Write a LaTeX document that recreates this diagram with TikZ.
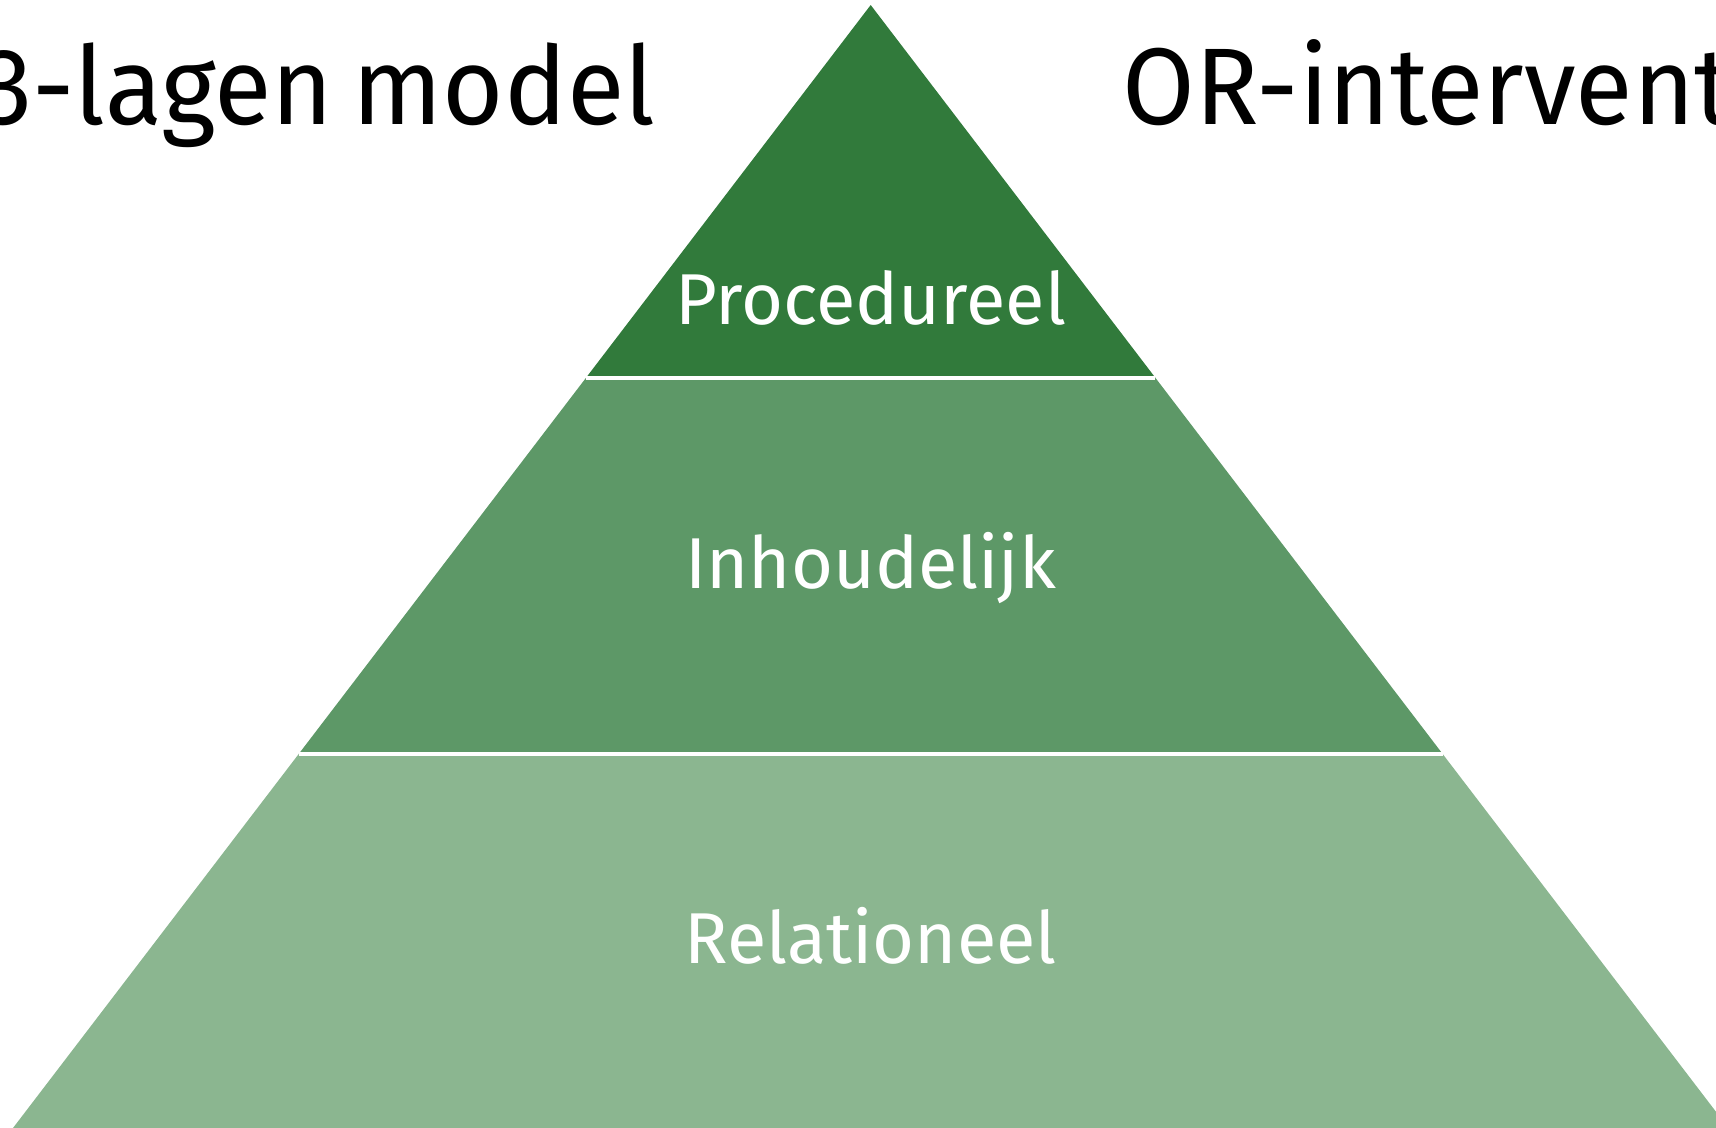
\documentclass[tikz,border=0pt]{standalone}
\usepackage{fontspec}
\setmainfont{Fira Sans}
\newfontfamily\titelfont{Fira Sans}[WordSpace=0.7,FakeStretch=0.965]
\definecolor{laagboven}{RGB}{49,122,59}
\definecolor{laagmidden}{RGB}{93,152,103}
\definecolor{laagonder}{RGB}{139,182,144}
\tikzset{
	laagtekst/.style={white,font=\fontsize{20.5}{24}\selectfont,anchor=base},
	titel/.style={black,inner sep=0pt,font=\titelfont\fontsize{31}{36}\selectfont},
	scheiding/.style={white,line width=0.045cm}
}

\begin{document}
\begin{tikzpicture}
	\useasboundingbox (0,0) rectangle (17.16,-11.28);
	\clip (0,0) rectangle (17.16,-11.28);
	% hoekpunten van de piramide
	\coordinate (top) at (8.707,-0.05);
	\coordinate (A1) at (5.860,-3.778);
	\coordinate (B1) at (11.554,-3.778);
	\coordinate (A2) at (2.987,-7.54);
	\coordinate (B2) at (14.427,-7.54);
	\coordinate (A3) at (0.13,-11.28);
	\coordinate (B3) at (17.284,-11.28);
	\fill[laagboven] (top) -- (B1) -- (A1) -- cycle;
	\fill[laagmidden] (A1) -- (B1) -- (B2) -- (A2) -- cycle;
	\fill[laagonder] (A2) -- (B2) -- (B3) -- (A3) -- cycle;
	\draw[scheiding] (A1) -- (B1);
	\draw[scheiding] (A2) -- (B2);
	\node[laagtekst] (procedureel) at (8.707,-3.24) {Procedureel};
	\node[laagtekst] (inhoudelijk) at (8.707,-5.88) {Inhoudelijk};
	\node[laagtekst] (relationeel) at (8.707,-9.63) {Relationeel};
	\node[titel,anchor=base east] (model) at (6.56,-1.24) {3-lagen model};
	\node[titel,anchor=base west] (interventies) at (11.22,-1.24) {OR-interventies};
\end{tikzpicture}
\end{document}
